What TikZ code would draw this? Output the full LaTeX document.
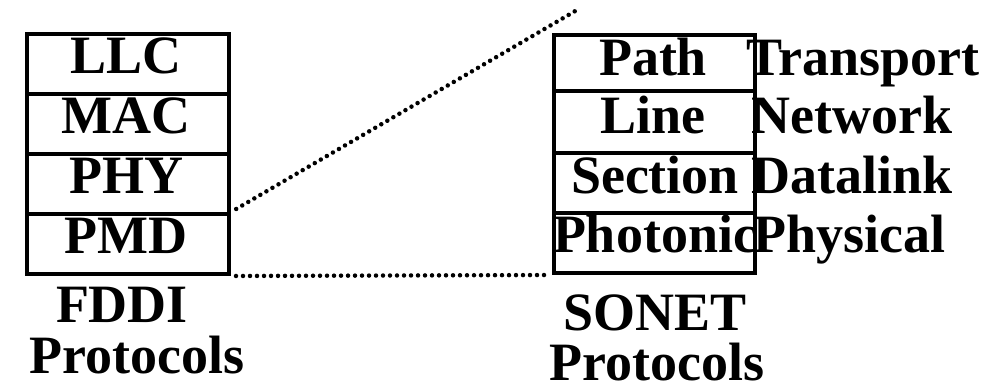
\documentclass[tikz,border=0pt]{standalone}
\usepackage{fontspec}
\setmainfont{Liberation Serif}
\usetikzlibrary{positioning}
\tikzset{layer/.style = {draw, line width=4pt, rectangle, inner sep=0pt},
         tag/.style   = {inner sep=0pt, anchor=base, font=\fontsize{54}{53}\selectfont\bfseries},
         side/.style  = {tag, anchor=base west},
         dots/.style  = {line width=4.5pt, line cap=round, dash pattern=on 0pt off 7pt}}

\begin{document}
\begin{tikzpicture}[x=1pt,y=-1pt]
        \useasboundingbox (0,0) rectangle (991,391);
        % FDDI stack
        \node[layer, minimum width=202pt, minimum height=60pt](llc)at(128,64){};
        \node[layer, minimum width=202pt, minimum height=60pt](mac)at(128,124){};
        \node[layer, minimum width=202pt, minimum height=60pt](phy)at(128,184){};
        \node[layer, minimum width=202pt, minimum height=60pt](pmd)at(128,244){};
        \node[tag](tllc)at(126,73){LLC};
        \node[tag](tmac)at(126,133){MAC};
        \node[tag](tphy)at(126,193){PHY};
        \node[tag](tpmd)at(126,253){PMD};
        \node[tag](fddi)at(122,322){FDDI};
        \node[tag](fddiprot)at(137,373){Protocols};
        % SONET stack
        \node[layer, minimum width=201pt, minimum height=56pt](path)at(654.5,63){};
        \node[layer, minimum width=201pt, minimum height=62pt](line)at(654.5,122){};
        \node[layer, minimum width=201pt, minimum height=60pt](section)at(654.5,183){};
        \node[layer, minimum width=201pt, minimum height=60pt](photonic)at(654.5,243){};
        \node[tag](tpath)at(653,75){Path};
        \node[tag](tline)at(653,133){Line};
        \node[tag](tsection)at(655,193){Section};
        \node[tag](tphotonic)at(655,252){Photonic};
        \node[side](transport)at(746,75){Transport};
        \node[side](network)at(751,133){Network};
        \node[side](datalink)at(751,193){Datalink};
        \node[side](physical)at(753,252){Physical};
        \node[tag](sonet)at(655,330){SONET};
        \node[tag](sonetprot)at(657,380){Protocols};
        % zoom lines
        \coordinate(top)at(577,10);
        \draw[dots, shorten <=6pt](pmd.north east)--(top);
        \draw[dots, shorten <=5pt, shorten >=4pt](pmd.south east)--(photonic.south west);
    \end{tikzpicture}
\end{document}
